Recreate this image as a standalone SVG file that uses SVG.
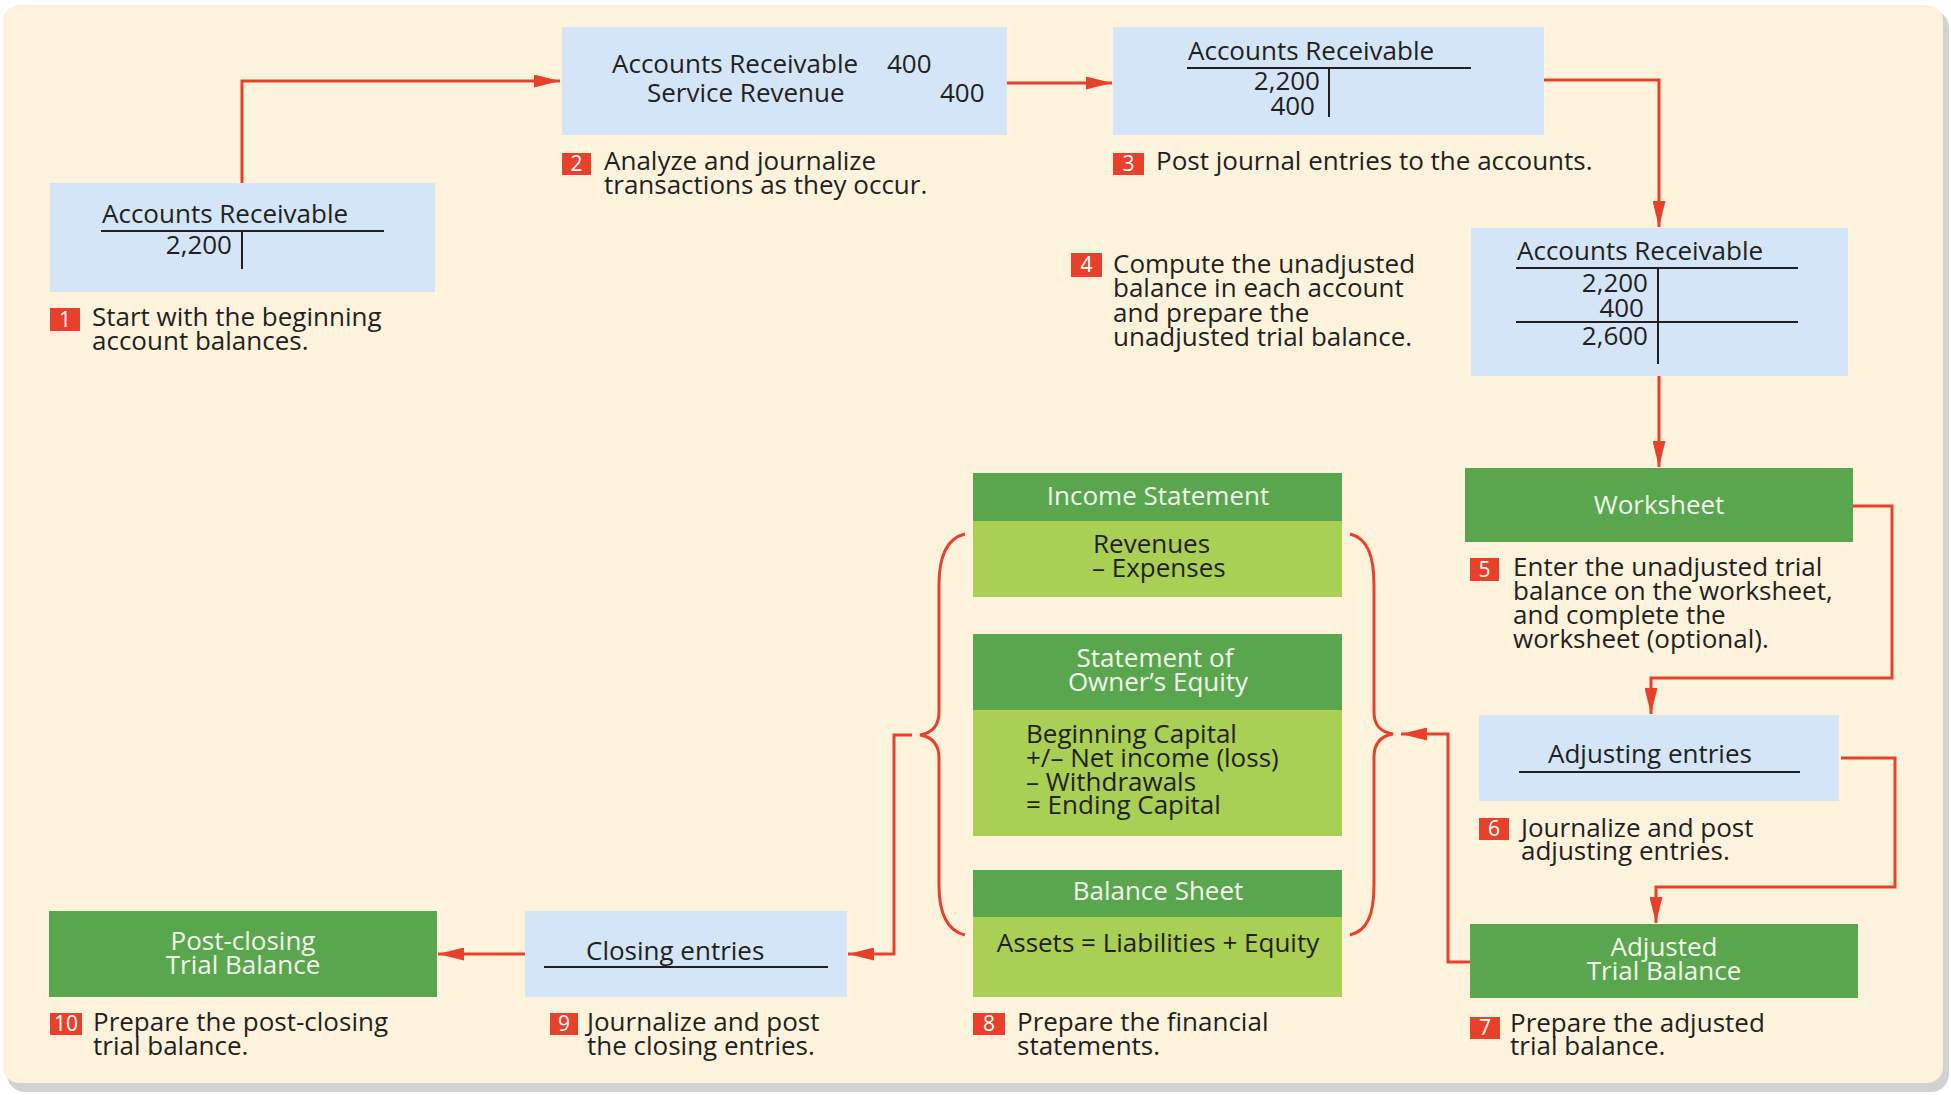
<svg xmlns="http://www.w3.org/2000/svg" width="1951" height="1095" viewBox="0 0 1951 1095">
<defs>
<style>
.t{font-family:"Open Sans","Liberation Sans",sans-serif;font-size:26px;fill:#231f20}
.w{font-family:"Open Sans","Liberation Sans",sans-serif;font-size:26px;fill:#f2f7ec}
.n{font-family:"Open Sans","Liberation Sans",sans-serif;font-size:21px;fill:#ffffff;text-anchor:middle}
.m{text-anchor:middle}
.e{text-anchor:end}
.blue{fill:#d3e5f6}
.dg{fill:#5aa64f}
.lg{fill:#a9cf54}
.sq{fill:#e8412b}
.ln{stroke:#231f20;stroke-width:2;fill:none}
.con{stroke:#e8412b;stroke-width:3;fill:none;marker-end:url(#ah)}
.br{stroke:#e8412b;stroke-width:3;fill:none}
</style>
<marker id="ah" viewBox="0 0 26 13" refX="26" refY="6.5" markerWidth="26" markerHeight="13" markerUnits="userSpaceOnUse" orient="auto">
<path d="M0,0 L26,6.5 L0,13 z" fill="#e8412b"/>
</marker>
</defs>
<rect x="0" y="0" width="1951" height="1095" fill="#ffffff"/>
<rect x="7" y="10" width="1942" height="1082" rx="18" fill="#d2d2d2"/>
<rect x="3" y="5" width="1940" height="1078" rx="16" fill="#fdf3dc"/>

<g id="connectors">
<path class="con" d="M242,183 V81 H560"/>
<path class="con" d="M1007,83 H1112"/>
<path class="con" d="M1544,80 H1659 V227"/>
<path class="con" d="M1659,376 V467"/>
<path class="con" d="M1853,506 H1892 V678 H1651 V714"/>
<path class="con" d="M1841,758 H1895 V887 H1656 V923"/>
<path class="con" d="M1470,962 H1448 V734 H1401"/>
<path class="con" d="M912,735 H894 V954 H848"/>
<path class="con" d="M525,954 H438"/>
<path class="br" d="M965,534 C948,538 939,555 939,585 L939,712 C939,726 932,733 920,735 C932,737 939,744 939,758 L939,885 C939,915 948,931 965,935"/>
<path class="br" d="M1350,534 C1367,538 1374,555 1374,585 L1374,712 C1374,726 1381,732 1393,734 C1381,736 1374,743 1374,757 L1374,885 C1374,915 1367,931 1350,935"/>
</g>

<g id="n1">
<rect class="blue" x="50" y="183" width="385" height="109"/>
<text class="t" x="102" y="223">Accounts Receivable</text>
<line class="ln" x1="101" y1="231" x2="384" y2="231"/>
<line class="ln" x1="242" y1="231" x2="242" y2="269"/>
<text class="t e" x="232" y="254">2,200</text>
<rect class="sq" x="50" y="308" width="30" height="23"/>
<text class="n" x="65" y="327">1</text>
<text class="t" x="92" y="326">Start with the beginning<tspan x="92" dy="24">account balances.</tspan></text>
</g>

<g id="n2">
<rect class="blue" x="562" y="27" width="445" height="108"/>
<text class="t" x="612" y="73">Accounts Receivable</text>
<text class="t" x="887" y="73">400</text>
<text class="t" x="647" y="102">Service Revenue</text>
<text class="t" x="940" y="102">400</text>
<rect class="sq" x="562" y="153" width="29" height="22"/>
<text class="n" x="576.5" y="171">2</text>
<text class="t" x="604" y="170">Analyze and journalize<tspan x="604" dy="24">transactions as they occur.</tspan></text>
</g>

<g id="n3">
<rect class="blue" x="1113" y="27" width="431" height="108"/>
<text class="t" x="1188" y="60">Accounts Receivable</text>
<line class="ln" x1="1187" y1="68" x2="1471" y2="68"/>
<line class="ln" x1="1329" y1="68" x2="1329" y2="117"/>
<text class="t e" x="1320" y="90">2,200<tspan x="1315" dy="25">400</tspan></text>
<rect class="sq" x="1113" y="153" width="31" height="22"/>
<text class="n" x="1128.5" y="171">3</text>
<text class="t" x="1156" y="170">Post journal entries to the accounts.</text>
</g>

<g id="n4">
<rect class="blue" x="1471" y="228" width="377" height="148"/>
<text class="t" x="1517" y="260">Accounts Receivable</text>
<line class="ln" x1="1516" y1="268" x2="1798" y2="268"/>
<line class="ln" x1="1658" y1="268" x2="1658" y2="364"/>
<text class="t e" x="1648" y="292">2,200<tspan x="1644" dy="25">400</tspan><tspan x="1648" dy="28">2,600</tspan></text>
<line class="ln" x1="1516" y1="322" x2="1798" y2="322"/>
<rect class="sq" x="1071" y="253" width="31" height="24"/>
<text class="n" x="1086.5" y="272">4</text>
<text class="t" x="1113" y="273">Compute the unadjusted<tspan x="1113" dy="24.3">balance in each account</tspan><tspan x="1113" dy="24.3">and prepare the</tspan><tspan x="1113" dy="24.3">unadjusted trial balance.</tspan></text>
</g>

<g id="n5">
<rect class="dg" x="1465" y="468" width="388" height="74"/>
<text class="w m" x="1659" y="514">Worksheet</text>
<rect class="sq" x="1470" y="558" width="29" height="23"/>
<text class="n" x="1484.5" y="577">5</text>
<text class="t" x="1513" y="576">Enter the unadjusted trial<tspan x="1513" dy="24">balance on the worksheet,</tspan><tspan x="1513" dy="24">and complete the</tspan><tspan x="1513" dy="24">worksheet (optional).</tspan></text>
</g>

<g id="n6">
<rect class="blue" x="1479" y="715" width="360" height="86"/>
<text class="t" x="1548" y="763">Adjusting entries</text>
<line class="ln" x1="1519" y1="772" x2="1800" y2="772"/>
<rect class="sq" x="1479" y="818" width="30" height="22"/>
<text class="n" x="1494" y="836">6</text>
<text class="t" x="1521" y="837">Journalize and post<tspan x="1521" dy="23">adjusting entries.</tspan></text>
</g>

<g id="n7">
<rect class="dg" x="1470" y="924" width="388" height="74"/>
<text class="w m" x="1664" y="956">Adjusted<tspan x="1664" dy="24">Trial Balance</tspan></text>
<rect class="sq" x="1470" y="1017" width="30" height="22"/>
<text class="n" x="1485" y="1035">7</text>
<text class="t" x="1510" y="1032">Prepare the adjusted<tspan x="1510" dy="23">trial balance.</tspan></text>
</g>

<g id="n8">
<rect class="dg" x="973" y="473" width="369" height="48"/>
<text class="w m" x="1158" y="505">Income Statement</text>
<rect class="lg" x="973" y="521" width="369" height="76"/>
<text class="t" x="1093" y="553">Revenues<tspan x="1092" dy="24">– Expenses</tspan></text>
<rect class="dg" x="973" y="634" width="369" height="76"/>
<text class="w m" x="1155" y="667">Statement of<tspan x="1158" dy="24">Owner’s Equity</tspan></text>
<rect class="lg" x="973" y="710" width="369" height="126"/>
<text class="t" x="1026" y="743">Beginning Capital<tspan x="1026" dy="24">+/– Net income (loss)</tspan><tspan x="1026" dy="23.5">– Withdrawals</tspan><tspan x="1026" dy="23.5">= Ending Capital</tspan></text>
<rect class="dg" x="973" y="870" width="369" height="47"/>
<text class="w m" x="1158" y="900">Balance Sheet</text>
<rect class="lg" x="973" y="917" width="369" height="80"/>
<text class="t m" x="1158" y="952">Assets = Liabilities + Equity</text>
<rect class="sq" x="973" y="1013" width="32" height="22"/>
<text class="n" x="989" y="1031">8</text>
<text class="t" x="1017" y="1031">Prepare the financial<tspan x="1017" dy="24">statements.</tspan></text>
</g>

<g id="n9">
<rect class="blue" x="525" y="911" width="322" height="86"/>
<text class="t" x="586" y="960">Closing entries</text>
<line class="ln" x1="544" y1="967" x2="828" y2="967"/>
<rect class="sq" x="550" y="1013" width="28" height="22"/>
<text class="n" x="564" y="1031">9</text>
<text class="t" x="587" y="1031">Journalize and post<tspan x="587" dy="24">the closing entries.</tspan></text>
</g>

<g id="n10">
<rect class="dg" x="49" y="911" width="388" height="86"/>
<text class="w m" x="243" y="950">Post-closing<tspan x="243" dy="24">Trial Balance</tspan></text>
<rect class="sq" x="50" y="1013" width="32" height="22"/>
<text class="n" x="66" y="1031">10</text>
<text class="t" x="93" y="1031">Prepare the post-closing<tspan x="93" dy="24">trial balance.</tspan></text>
</g>
</svg>
